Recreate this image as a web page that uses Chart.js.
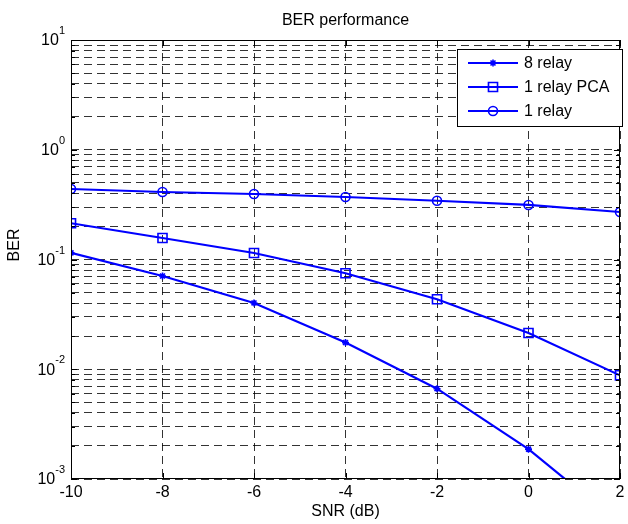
<!DOCTYPE html>
<html>
<head>
<meta charset="utf-8">
<script src="https://cdn.jsdelivr.net/npm/chart.js@4/dist/chart.umd.min.js"></script>
<style>
    html, body { margin: 0; padding: 0; background: #fff; }
    canvas { display: block; }
</style>
</head>
<body>
<canvas id="chart" width="628" height="524"></canvas>
<script>
const snr = [-10, -8, -6, -4, -2, 0, 2]
const ber8Relay = [0.115, 0.0707, 0.0402, 0.0175, 0.00665, 0.00187, 0.00039]
const ber1RelayPca = [0.214, 0.157, 0.1146, 0.0749, 0.0434, 0.0214, 0.0088]
const ber1Relay = [0.439, 0.412, 0.395, 0.371, 0.343, 0.314, 0.271]

const seriesLabels = ['8 relay', '1 relay PCA', '1 relay']
const yDecades = [-3, -2, -1, 0, 1]
const yMinorSteps = [2, 3, 4, 5, 6, 7, 8, 9]

const FONT = '"Liberation Sans", Arial, Helvetica, sans-serif'
const BLUE = '#0000ff'

// all y tick values: decades plus minor 2..9 steps
const yTicks = []
yDecades.forEach((d, i) => {
    yTicks.push({ value: Math.pow(10, d), major: true })
    if (i < yDecades.length - 1) {
        yMinorSteps.forEach(m => yTicks.push({ value: m * Math.pow(10, d), major: false }))
    }
})

const toPoints = (ys) => snr.map((x, i) => ({ x: x, y: ys[i] }))

const makeSet = (label, ys, style, radius) => ({
    label: label,
    data: toPoints(ys),
    borderColor: BLUE,
    backgroundColor: 'rgba(0,0,0,0)',
    borderWidth: 2.2,
    pointStyle: style,
    pointRadius: radius,
    pointBorderWidth: 1.6,
    pointBorderColor: BLUE,
    pointBackgroundColor: 'rgba(0,0,0,0)',
    tension: 0
})

// Desenha rótulos 10^n, caixa, ticks internos e legenda
const matlabPlugin = {
    id: 'matlabLook',
    afterDraw(chart) {
        const ctx = chart.ctx
        const area = chart.chartArea
        const yScale = chart.scales.y
        const xScale = chart.scales.x

        ctx.save()

        // caixa do eixo
        ctx.strokeStyle = '#000'
        ctx.lineWidth = 1
        ctx.setLineDash([])
        ctx.strokeRect(area.left + 0.5, area.top + 0.5, area.right - area.left - 1, area.bottom - area.top - 1)

        // ticks internos
        ctx.beginPath()
        yTicks.forEach(t => {
            const y = Math.round(yScale.getPixelForValue(t.value)) + 0.5
            const len = t.major ? 6 : 4
            ctx.moveTo(area.left, y)
            ctx.lineTo(area.left + len, y)
            ctx.moveTo(area.right, y)
            ctx.lineTo(area.right - len, y)
        })
        xScale.ticks.forEach(t => {
            const x = Math.round(xScale.getPixelForValue(t.value)) + 0.5
            ctx.moveTo(x, area.bottom)
            ctx.lineTo(x, area.bottom - 6)
            ctx.moveTo(x, area.top)
            ctx.lineTo(x, area.top + 6)
        })
        ctx.stroke()

        // rótulos do eixo y com expoente
        ctx.fillStyle = '#000'
        const rightEdge = area.left - 6
        yDecades.forEach(d => {
            const y = yScale.getPixelForValue(Math.pow(10, d))
            const exp = String(d)
            ctx.font = '11px ' + FONT
            const expW = ctx.measureText(exp).width
            ctx.textAlign = 'left'
            ctx.textBaseline = 'middle'
            ctx.fillText(exp, rightEdge - expW, y - 9)
            ctx.font = '16px ' + FONT
            ctx.textAlign = 'right'
            ctx.fillText('10', rightEdge - expW, y + 1)
        })

        // título do eixo y
        ctx.save()
        ctx.translate(15, 245)
        ctx.rotate(-Math.PI / 2)
        ctx.font = '16px ' + FONT
        ctx.textAlign = 'center'
        ctx.textBaseline = 'middle'
        ctx.fillText('BER', 0, 0)
        ctx.restore()

        // legenda
        const lx = 457, ly = 49, lw = 165, lh = 77
        ctx.fillStyle = '#fff'
        ctx.fillRect(lx, ly, lw, lh)
        ctx.strokeStyle = '#000'
        ctx.lineWidth = 1
        ctx.strokeRect(lx + 0.5, ly + 0.5, lw, lh)

        chart.data.datasets.forEach((ds, i) => {
            const ry = ly + 14 + i * 24
            ctx.strokeStyle = BLUE
            ctx.lineWidth = 2.2
            ctx.beginPath()
            ctx.moveTo(lx + 11, ry)
            ctx.lineTo(lx + 61, ry)
            ctx.stroke()
            ctx.fillStyle = 'rgba(0,0,0,0)'
            ctx.lineWidth = 1.6
            Chart.helpers.drawPoint(ctx, {
                pointStyle: ds.pointStyle,
                radius: ds.pointRadius,
                rotation: 0,
                borderWidth: 1.6
            }, lx + 36, ry)
            ctx.fillStyle = '#000'
            ctx.font = '16px ' + FONT
            ctx.textAlign = 'left'
            ctx.textBaseline = 'middle'
            ctx.fillText(ds.label, lx + 67, ry + 1)
        })

        ctx.restore()
    }
}

new Chart(document.getElementById('chart'), {
    type: 'line',
    data: {
        datasets: [
            makeSet(seriesLabels[0], ber8Relay, 'star', 3.5),
            makeSet(seriesLabels[1], ber1RelayPca, 'rect', 6.4),
            makeSet(seriesLabels[2], ber1Relay, 'circle', 4.5)
        ]
    },
    options: {
        responsive: false,
        animation: false,
        devicePixelRatio: 1,
        layout: { padding: { left: 0, right: 3, top: 0, bottom: 0 } },
        plugins: {
            legend: { display: false },
            tooltip: { enabled: false },
            title: {
                display: true,
                fullSize: false,
                text: 'BER performance',
                color: '#000',
                font: { family: FONT, size: 16, weight: 'normal' },
                padding: { top: 11, bottom: 9.8 }
            }
        },
        scales: {
            x: {
                type: 'linear',
                min: -10,
                max: 2,
                ticks: {
                    stepSize: 2,
                    color: '#000',
                    padding: 4,
                    maxRotation: 0,
                    font: { family: FONT, size: 16 }
                },
                grid: {
                    color: 'rgba(0,0,0,0.8)',
                    lineWidth: 1,
                    drawTicks: false
                },
                border: { display: false, dash: [8, 5] },
                title: {
                    display: true,
                    text: 'SNR (dB)',
                    color: '#000',
                    font: { family: FONT, size: 16 },
                    padding: { top: 0, bottom: 2.4 }
                },
                afterFit(scale) {
                    scale.height = 45
                    scale.paddingLeft = 0
                    scale.paddingRight = 0
                }
            },
            y: {
                type: 'logarithmic',
                min: 0.001,
                max: 10,
                ticks: { display: false },
                grid: {
                    color: 'rgba(0,0,0,0.8)',
                    lineWidth: 1,
                    drawTicks: false
                },
                border: { display: false, dash: [8, 5] },
                afterBuildTicks(scale) {
                    scale.ticks = yTicks.map(t => ({ value: t.value, major: t.major }))
                },
                afterFit(scale) {
                    scale.width = 71
                    scale.paddingTop = 0
                    scale.paddingBottom = 0
                }
            }
        }
    },
    plugins: [matlabPlugin]
})
</script>
</body>
</html>
